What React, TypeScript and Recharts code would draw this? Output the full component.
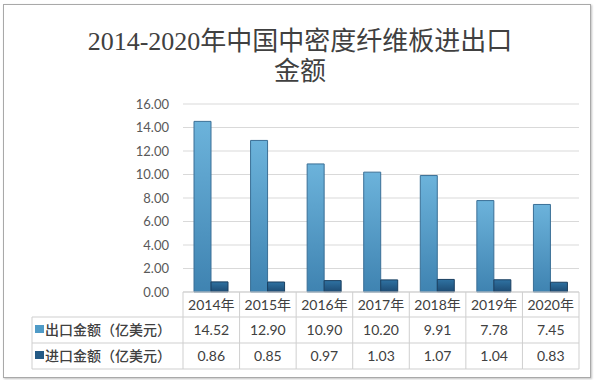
import React from 'react';
import { BarChart, Bar, XAxis, YAxis, CartesianGrid } from 'recharts';

const years = ['2014年', '2015年', '2016年', '2017年', '2018年', '2019年', '2020年'];
const exportVals = [14.52, 12.9, 10.9, 10.2, 9.91, 7.78, 7.45];
const importVals = [0.86, 0.85, 0.97, 1.03, 1.07, 1.04, 0.83];
const yTicks = [0, 2, 4, 6, 8, 10, 12, 14, 16];
const seriesNames = ['出口金额（亿美元）', '进口金额（亿美元）'];

const data = years.map((y, i) => ({ year: y, exp: exportVals[i], imp: importVals[i] }));

const TABLE_TOP = 292;
const ROW1 = 317;
const ROW2 = 343;
const ROW3 = 369;
const TABLE_LEFT = 32;
const LINE = '#cfcfcf';
const TXT = '#404040';
const FONT = "Lato, 'Noto Sans CJK SC', sans-serif";

const TableTick = (props: any) => {
  const { x, payload } = props;
  const i = payload.index ?? props.index ?? 0;
  const bw = 396 / years.length;
  const l = x - bw / 2;
  const r = x + bw / 2;
  const fmt = (v: number) => v.toFixed(2);
  return (
    <g style={{ fontFamily: FONT }}>
      {i === 0 && (
        <g>
          <line x1={l} x2={l} y1={TABLE_TOP} y2={ROW3} stroke={LINE} />
          <line x1={TABLE_LEFT} x2={l} y1={ROW1} y2={ROW1} stroke={LINE} />
          <line x1={TABLE_LEFT} x2={l} y1={ROW2} y2={ROW2} stroke={LINE} />
          <line x1={TABLE_LEFT} x2={l} y1={ROW3} y2={ROW3} stroke={LINE} />
          <line x1={TABLE_LEFT} x2={TABLE_LEFT} y1={ROW1} y2={ROW3} stroke={LINE} />
          <rect x={35} y={325} width={9} height={8} fill="#4f9bc7" />
          <rect x={35} y={351} width={9} height={8} fill="#245a85" />
          <text x={45} y={335} fontSize={14} fontWeight={500} fill={TXT}>{seriesNames[0]}</text>
          <text x={45} y={361} fontSize={14} fontWeight={500} fill={TXT}>{seriesNames[1]}</text>
        </g>
      )}
      <line x1={r} x2={r} y1={TABLE_TOP} y2={ROW3} stroke={LINE} />
      <line x1={l} x2={r} y1={ROW1} y2={ROW1} stroke={LINE} />
      <line x1={l} x2={r} y1={ROW2} y2={ROW2} stroke={LINE} />
      <line x1={l} x2={r} y1={ROW3} y2={ROW3} stroke={LINE} />
      <text x={x} y={310} textAnchor="middle" fontSize={14} fill={TXT}>{payload.value}</text>
      <text x={x} y={335} textAnchor="middle" fontSize={14} fill={TXT}>{fmt(exportVals[i])}</text>
      <text x={x} y={361} textAnchor="middle" fontSize={14} fill={TXT}>{fmt(importVals[i])}</text>
    </g>
  );
};

export default function App() {
  return (
    <div style={{ position: 'absolute', left: 0, top: 0, width: 600, height: 380, background: '#fff' }}>
      <div
        style={{
          position: 'absolute', left: 3, top: 4, width: 588, height: 374,
          border: '1px solid #a9a9a9', boxShadow: '1px 1px 2px rgba(0,0,0,0.25)', boxSizing: 'border-box',
        }}
      />
      <div
        style={{
          position: 'absolute', left: 0, top: 27, width: 600, textAlign: 'center',
          fontFamily: "'Liberation Serif', 'Noto Sans CJK SC', serif", fontSize: 26, color: '#404040', lineHeight: '30px',
        }}
      >
        2014-2020年中国中密度纤维板进出口
        <br />
        金额
      </div>
      <div style={{ position: 'absolute', left: 0, top: 0 }}>
        <BarChart
          width={600}
          height={380}
          data={data}
          margin={{ top: 104, right: 21, left: 0, bottom: 8 }}
          barGap={0}
          barSize={17}
        >
          <defs>
            <linearGradient id="gExp" x1="0" y1="0" x2="0" y2="1">
              <stop offset="0%" stopColor="#6cb3db" />
              <stop offset="100%" stopColor="#3f83b1" />
            </linearGradient>
            <linearGradient id="gImp" x1="0" y1="0" x2="0" y2="1">
              <stop offset="0%" stopColor="#2f72a2" />
              <stop offset="100%" stopColor="#1d4b73" />
            </linearGradient>
          </defs>
          <CartesianGrid vertical={false} stroke="#d9d9d9" />
          <YAxis
            width={183}
            domain={[0, 16]}
            ticks={yTicks}
            tickFormatter={(v: number) => v.toFixed(2)}
            axisLine={false}
            tickLine={false}
            tickMargin={8}
            tick={{ fontSize: 13, fill: '#595959', fontFamily: FONT }}
          />
          <XAxis
            dataKey="year"
            height={80}
            axisLine={{ stroke: LINE }}
            tickLine={false}
            interval={0}
            tick={<TableTick />}
          />
          <Bar dataKey="exp" fill="url(#gExp)" stroke="#3a6f96" strokeWidth={1} isAnimationActive={false} />
          <Bar dataKey="imp" fill="url(#gImp)" stroke="#1a3f60" strokeWidth={1} isAnimationActive={false} />
        </BarChart>
      </div>
    </div>
  );
}
